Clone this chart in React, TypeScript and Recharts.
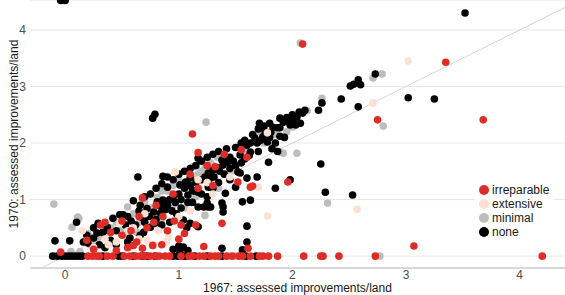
import React from 'react';
import { ScatterChart, Scatter, XAxis, YAxis, CartesianGrid, ReferenceLine, Label } from 'recharts';

type Pt = [number, number];

const categories = ['irreparable', 'extensive', 'minimal', 'none'];
const colors: Record<string, string> = {
  irreparable: '#de2d26',
  extensive: '#fee0d2',
  minimal: '#bdbdbd',
  none: '#000000',
};

const xTicks = [0, 1, 2, 3, 4];
const yTicks = [0, 1, 2, 3, 4];

const none: Pt[] = [
  [-0.04, 4.52], [0.0, 4.52], [3.52, 4.3], [0.77, 2.44], [0.79, 2.51],
  [2.73, 3.22], [2.51, 3.01], [2.54, 3.04], [2.58, 3.12], [2.6, 3.03], [2.43, 2.78], [2.58, 2.64],
  [2.26, 2.71], [2.23, 2.58], [2.11, 2.58], [3.02, 2.8], [3.25, 2.78],
  [2.09, 2.53], [2.04, 2.46], [2.01, 2.42], [1.96, 2.39], [1.89, 2.44], [1.89, 2.27], [1.83, 2.28],
  [2.03, 2.32], [2.07, 2.35], [1.71, 2.35], [1.87, 2.27], [1.89, 2.12], [1.81, 2.19], [1.76, 2.09],
  [1.72, 2.05], [1.67, 2.09], [1.69, 2.0], [1.63, 2.0], [1.6, 1.96], [1.74, 2.11], [1.78, 2.02],
  [1.98, 2.32], [1.92, 2.37], [1.76, 2.2], [1.8, 2.1], [1.85, 2.0], [1.82, 1.9], [1.87, 1.85],
  [1.63, 1.84], [1.54, 1.79], [1.45, 1.75], [1.41, 1.73], [1.38, 1.7], [1.39, 1.61], [1.43, 1.66],
  [1.34, 1.56], [1.3, 1.52], [1.26, 1.47], [1.28, 1.38], [1.23, 1.4], [1.31, 1.4], [1.79, 1.66],
  [1.69, 1.4], [1.6, 1.38], [1.5, 1.22], [1.52, 1.49], [1.17, 1.73], [0.9, 1.4], [1.1, 1.38],
  [1.06, 1.31], [1.01, 1.26], [0.9, 1.22], [2.25, 1.63], [2.29, 1.13], [2.53, 1.08], [1.98, 1.35],
  [1.85, 1.2], [1.54, 1.47], [1.56, 0.96], [1.39, 0.87], [1.39, 0.78], [1.6, 0.53], [1.6, 0.25],
  [1.56, 0.11], [1.38, 0.14], [1.17, 1.13], [1.12, 1.17], [1.25, 0.94], [1.26, 0.87], [1.38, 0.94],
  [1.63, 0.99], [1.41, 1.11], [1.28, 0.87], [1.17, 0.87], [1.22, 0.87], [1.17, 0.52], [1.07, 0.5],
  [1.04, 0.64], [1.1, 0.58], [0.86, 1.41], [0.64, 1.4], [-0.09, 0.27], [0.04, 0.27], [0.1, 0.6],
  [0.16, 0.25], [0.2, 0.23], [0.25, 0.32], [0.19, 0.37], [0.28, 0.41], [0.29, 0.58], [0.37, 0.46],
  [0.42, 0.67], [0.48, 0.73], [0.53, 0.55], [0.57, 0.32], [0.66, 0.37], [0.69, 0.42], [0.75, 0.51],
  [0.79, 0.58], [0.84, 0.76], [0.9, 0.9], [0.86, 0.99], [0.66, 0.9], [0.51, 0.73], [0.81, 0.96],
  [0.37, 0.51], [0.95, 0.12], [1.0, 0.18], [1.04, 0.16], [1.08, 0.1], [1.01, 0.07],
  [0.95, 1.05], [1.0, 1.1], [1.05, 1.2], [1.1, 1.25], [1.15, 1.3], [1.2, 1.35], [0.97, 0.95],
  [1.02, 1.0], [1.08, 1.08], [1.13, 1.15], [0.92, 1.0], [0.88, 0.82], [0.84, 0.88], [0.72, 0.84],
  [0.78, 0.78], [1.12, 0.95], [1.25, 1.05], [1.3, 1.2], [1.35, 1.3], [1.4, 1.45], [1.45, 1.55],
  [1.5, 1.6], [1.55, 1.65], [1.58, 1.72], [1.62, 1.78], [1.48, 1.68], [1.36, 1.5], [1.26, 1.22],
  [0.3, 0.2], [0.35, 0.15], [0.4, 0.28], [0.45, 0.2], [0.55, 0.25], [0.62, 0.55], [0.7, 0.6],
  [0.74, 0.7], [0.68, 0.68], [0.58, 0.62], [0.45, 0.45], [0.33, 0.42], [0.25, 0.5], [0.8, 0.65],
  [0.85, 0.55], [0.92, 0.6], [0.98, 0.75], [1.02, 0.85], [0.94, 0.8], [0.65, 0.8], [0.55, 0.7],
  [0.6, 0.98], [0.7, 1.05], [0.75, 1.1], [0.8, 1.2], [0.85, 1.28], [0.95, 1.35], [1.0, 1.45],
  [1.05, 1.5], [1.1, 1.55], [1.15, 1.6], [1.2, 1.68], [1.25, 1.75], [1.3, 1.8], [1.35, 1.85],
  [1.42, 1.9], [1.5, 1.92], [1.55, 2.0], [1.58, 2.05], [1.65, 2.15], [1.7, 2.25], [1.75, 2.3],
  [1.8, 2.35], [1.95, 2.45], [2.0, 2.5], [2.06, 2.55], [1.93, 2.1], [1.7, 1.85], [1.45, 1.35],
  [1.2, 1.1], [1.08, 0.95],
  [-0.11, 0], [-0.07, 0], [-0.03, 0], [0, 0], [0.03, 0], [0.06, 0], [0.09, 0], [0.12, 0], [0.15, 0],
  [0.33, 0], [0.47, 0], [0.5, 0], [0.6, 0], [0.68, 0], [0.72, 0], [0.79, 0], [0.95, 0], [0.99, 0],
  [1.03, 0], [1.06, 0], [1.14, 0], [1.25, 0], [1.38, 0], [1.59, 0], [1.68, 0],
];

const minimal: Pt[] = [
  [2.07, 3.77], [2.71, 3.15], [2.79, 3.22], [2.8, 2.3], [2.26, 2.79], [2.13, 2.57], [2.04, 2.5],
  [1.24, 2.37], [1.83, 1.93], [1.92, 1.82], [2.04, 1.82], [1.89, 1.84], [2.31, 0.94], [-0.1, 0.92],
  [0.11, 0.69], [0.06, 0.51], [0.12, 0.67], [0.53, 0.41], [0.63, 0.42], [0.55, 0.87], [0.81, 1.04],
  [1.28, 1.65], [1.34, 1.75], [1.23, 1.56], [1.12, 1.58], [1.12, 1.4], [1.45, 1.47], [1.17, 1.45],
  [0.78, 0.58], [1.23, 0.72], [2.77, 0], [-0.1, 0], [0.85, 1.15], [0.95, 1.25], [1.0, 1.35],
  [0.7, 0.95], [0.6, 0.75], [0.45, 0.6], [0.3, 0.35], [0.22, 0.2], [1.54, 1.96], [1.59, 1.93],
  [1.15, 1.05], [1.05, 0.85], [1.7, 2.2], [1.95, 2.2], [2.0, 2.28], [0.4, 0.5], [1.5, 0], [1.44, 0],
  [0.13, 0.08], [0.35, 0.55], [0.5, 0.5], [0.65, 0.6], [0.75, 0.85], [0.9, 1.15], [1.05, 1.3],
  [1.2, 1.5], [1.3, 1.6], [1.4, 1.7], [1.6, 1.85], [1.75, 2.0], [1.85, 2.15], [0.2, 0.4],
  [0.28, 0.25], [0.95, 0.9], [1.1, 1.0], [0.85, 0.65], [0.55, 0.3], [1.35, 1.2], [0.05, 0.08],
];

const extensive: Pt[] = [
  [2.71, 2.71], [3.02, 3.45], [1.78, 2.18], [1.78, 0.71], [2.57, 0.83], [1.7, 1.22], [0.91, 0.34],
  [0.48, 0.58], [0.72, 0.28], [0.78, 0.19], [0.97, 1.49], [1.17, 1.35], [0.25, 0.15], [0.35, 0.3],
  [0.6, 0.5], [1.0, 0.7], [0.89, 0.25], [1.45, 1.4], [0.15, 0.45], [1.3, 1.1], [0.55, 0.45],
  [0.65, 0.3], [0.45, 0.25], [0.82, 0.45], [1.1, 0.8], [1.25, 1.3], [0.7, 0.75], [0.38, 0.2],
];

const irreparable: Pt[] = [
  [2.09, 3.75], [1.12, 2.16], [2.75, 2.41], [3.35, 3.43], [3.68, 2.41], [3.07, 0.18], [4.2, 0],
  [1.17, 1.83], [1.6, 1.75], [1.32, 1.58], [1.52, 1.31], [1.63, 1.22], [1.17, 1.2], [1.96, 1.31],
  [1.65, 1.24], [1.38, 0.58], [1.15, 0.55], [1.22, 0.17], [1.61, 0.14], [0.78, 0.6], [0.68, 1.03],
  [0.31, 0.55], [0.4, 0.42], [0.5, 0.37], [0.63, 0.25], [0.68, 0.14], [0.6, 0.19], [0.77, 0.19],
  [0.19, 0.28], [-0.04, 0.07], [0.86, 0.7], [0.96, 0.62], [1.05, 0.4], [0.5, 0.62], [0.95, 1.1],
  [1.3, 1.25], [0.9, 0.45], [1.0, 0.3], [0.25, 0.12], [0.45, 0.1], [0.55, 0.15], [0.85, 0.2],
  [0.58, 0.45], [0.72, 0.5], [0.65, 0.7], [0.8, 0.9], [1.1, 1.45], [1.25, 1.6], [1.4, 1.8],
  [1.55, 1.88], [1.02, 0.55], [0.35, 0.6],
  [0.2, 0], [0.24, 0], [0.28, 0], [0.3, 0], [0.37, 0], [0.42, 0], [0.52, 0], [0.57, 0], [0.62, 0],
  [0.66, 0], [0.7, 0], [0.75, 0], [0.8, 0], [0.83, 0], [0.88, 0], [0.92, 0], [1.02, 0], [1.09, 0],
  [1.12, 0], [1.18, 0], [1.22, 0], [1.28, 0], [1.32, 0], [1.35, 0], [1.42, 0], [1.47, 0], [1.53, 0],
  [1.56, 0], [1.63, 0], [1.71, 0], [1.74, 0], [1.79, 0], [1.87, 0], [2.1, 0], [2.25, 0], [2.27, 0],
  [2.41, 0], [2.73, 0],
];

const seriesData: Record<string, Pt[]> = { none, minimal, extensive, irreparable };
const drawOrder = ['minimal', 'none', 'extensive', 'irreparable'];

const toRows = (pts: Pt[]) => pts.map(([x, y]) => ({ x, y }));

const Dot = (fill: string) => (props: any) =>
  <circle cx={props.cx} cy={props.cy} r={3.8} fill={fill} />;

const LegendBox = () => (
  <div
    style={{
      position: 'absolute', left: 475, top: 182, background: '#fff',
      padding: '1px 4px', fontSize: 12, color: '#1a1a1a', lineHeight: '14px',
    }}
  >
    {categories.map((c) => (
      <div key={c} style={{ display: 'flex', alignItems: 'center', height: 14 }}>
        <span style={{ width: 10, height: 10, borderRadius: '50%', background: colors[c], marginRight: 3 }} />
        <span>{c}</span>
      </div>
    ))}
  </div>
);

export default function App() {
  return (
    <div style={{ position: 'absolute', left: 0, top: 0, width: 565, height: 295, fontFamily: '"Liberation Sans", Arial, sans-serif' }}>
      <ScatterChart width={565} height={295} margin={{ top: 0, right: 0, bottom: 0, left: 0 }}>
        <CartesianGrid vertical={false} stroke="#e6e6e6" strokeWidth={1} />
        <XAxis
          type="number"
          dataKey="x"
          domain={[-0.31, 4.4]}
          ticks={xTicks}
          allowDataOverflow
          height={27}
          tickSize={0}
          tickMargin={2}
          axisLine={{ stroke: '#d0d0d0', strokeWidth: 1.5 }}
          tick={{ fill: '#4d4d4d', fontSize: 12 }}
        >
          <Label value="1967: assessed improvements/land" position="insideBottom" offset={3} fill="#1a1a1a" fontSize={12} />
        </XAxis>
        <YAxis
          type="number"
          dataKey="y"
          domain={[-0.21, 4.53]}
          ticks={yTicks}
          allowDataOverflow
          width={30}
          tickSize={0}
          tickMargin={4}
          axisLine={false}
          tick={{ fill: '#4d4d4d', fontSize: 12 }}
        >
          <Label
            content={() => (
              <text x={18} y={134} transform="rotate(-90 18 134)" textAnchor="middle" fill="#1a1a1a" fontSize={12}>
                1970: assessed improvements/land
              </text>
            )}
          />
        </YAxis>
        <ReferenceLine
          segment={[{ x: -0.21, y: -0.21 }, { x: 4.4, y: 4.4 }]}
          stroke="#cccccc"
          strokeWidth={0.8}
          ifOverflow="visible"
        />
        {drawOrder.map((c) => (
          <Scatter
            key={c}
            name={c}
            data={toRows(seriesData[c])}
            fill={colors[c]}
            shape={Dot(colors[c])}
            isAnimationActive={false}
          />
        ))}
      </ScatterChart>
      <LegendBox />
    </div>
  );
}
